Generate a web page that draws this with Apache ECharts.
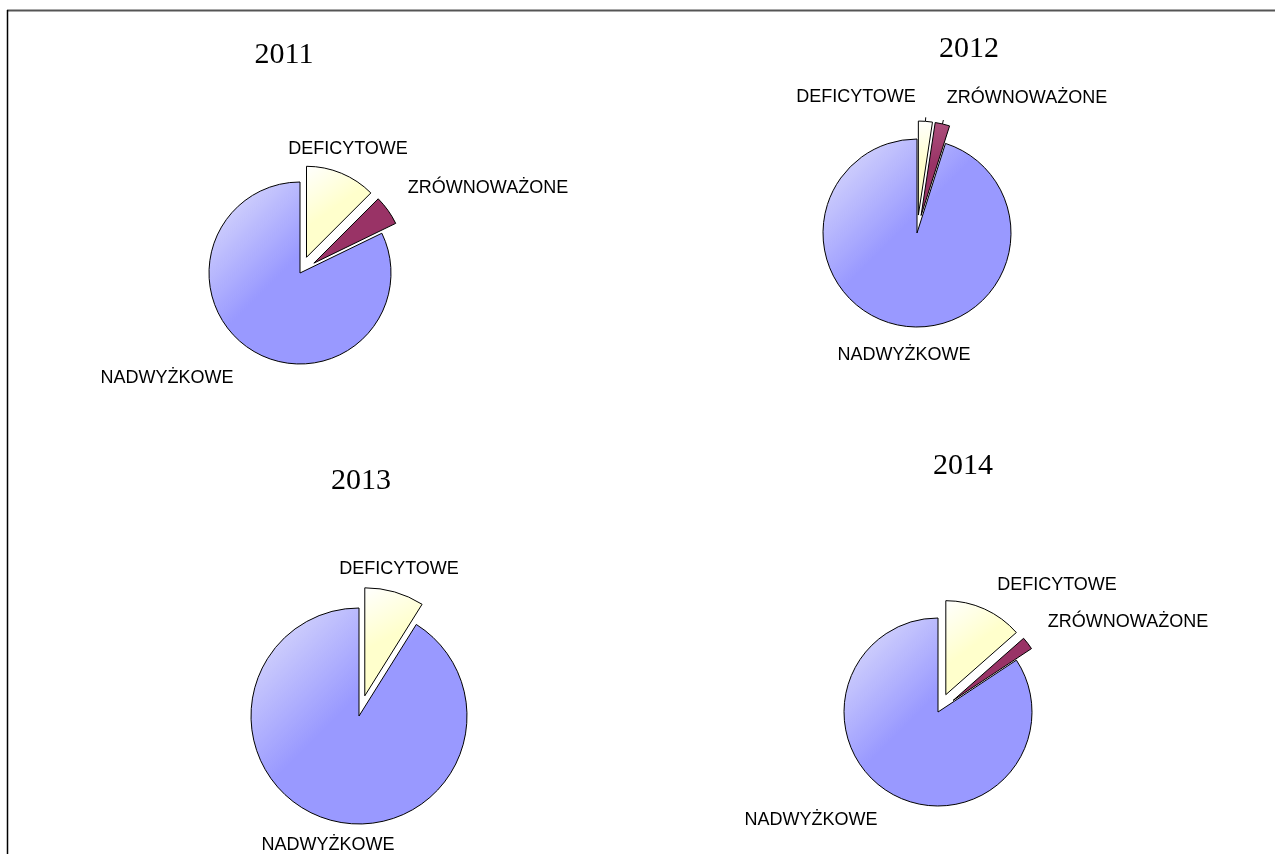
<!DOCTYPE html>
<html>
<head>
<meta charset="utf-8">
<script src="https://cdn.jsdelivr.net/npm/echarts@6/dist/echarts.min.js"></script>
<style>
  html, body { margin: 0; padding: 0; background: #fff; }
  #main { width: 1275px; height: 854px; }
</style>
</head>
<body>
<div id="main"></div>
<script>
// dane: udział jednostek wg wyniku budżetu (%)
const years = ['2011', '2012', '2013', '2014']
const categories = ['DEFICYTOWE', 'ZRÓWNOWAŻONE', 'NADWYŻKOWE']
const values2011 = [12.5, 5.3, 82.2]
const values2012 = [2.4, 2.5, 95.1]
const values2013 = [8.9, 0, 91.1]
const values2014 = [13.5, 2.2, 84.3]
const yearValues = [values2011, values2012, values2013, values2014]

// układ (położenie wykresów, tytułów i etykiet)
const pieCenters = [[300, 273], [917, 233], [359, 716], [938, 712]]
const pieRadii = [91, 94, 108, 94]
const explodeOffsets = [17, 18, 21, 19]
const titlePos = [[284, 40], [969, 34], [361, 466], [963, 451]]
const showLeader = [false, true, false, false]
const labelPos = [
  { DEFICYTOWE: [348, 149], 'ZRÓWNOWAŻONE': [488, 188], NADWYŻKOWE: [167, 378] },
  { DEFICYTOWE: [856, 97], 'ZRÓWNOWAŻONE': [1027, 98], NADWYŻKOWE: [904, 355] },
  { DEFICYTOWE: [399, 569], NADWYŻKOWE: [328, 845] },
  { DEFICYTOWE: [1057, 585], 'ZRÓWNOWAŻONE': [1128, 622], NADWYŻKOWE: [811, 820] }
]

// kolory (wypełnienie z lekkim rozjaśnieniem w lewym górnym rogu)
const fills = {
  DEFICYTOWE: ['#ffffff', '#ffffcc'],
  'ZRÓWNOWAŻONE': ['#b05580', '#993366'],
  NADWYŻKOWE: ['#e4e4fb', '#9999ff']
}

function gradient(name) {
  const c = fills[name]
  return {
    type: 'linear', x: 0, y: 0, x2: 1, y2: 1,
    colorStops: [
      { offset: 0, color: c[0] },
      { offset: 0.45, color: c[1] },
      { offset: 1, color: c[1] }
    ]
  }
}

const seriesData = yearValues.map((vals, k) => {
  const list = []
  vals.forEach((v, i) => {
    if (v > 0) {
      const name = categories[i]
      const exploded = name !== 'NADWYŻKOWE'
      list.push({
        name: name,
        value: v,
        selected: exploded,
        itemStyle: { color: gradient(name) },
        labelLine: { show: showLeader[k] && exploded }
      })
    }
  })
  return list
})

// przesunięcie wysuniętego wycinka (etykieta przesuwa się razem z nim)
function explodeShift(k, idx) {
  const list = seriesData[k]
  if (!list[idx].selected) return [0, 0]
  const total = list.reduce((s, d) => s + d.value, 0)
  let before = 0
  for (let i = 0; i < idx; i++) before += list[i].value
  const mid = (before + list[idx].value / 2) / total * Math.PI * 2
  return [explodeOffsets[k] * Math.sin(mid), -explodeOffsets[k] * Math.cos(mid)]
}

const labelFont = {
  fontFamily: '"Liberation Sans", Arial, sans-serif',
  fontSize: 18,
  color: '#000'
}

const series = years.map((y, k) => ({
  name: y,
  type: 'pie',
  center: pieCenters[k],
  radius: [0, pieRadii[k]],
  startAngle: 90,
  clockwise: true,
  selectedMode: 'multiple',
  selectedOffset: explodeOffsets[k],
  avoidLabelOverlap: false,
  data: seriesData[k],
  itemStyle: { borderColor: '#000', borderWidth: 1 },
  select: { itemStyle: { borderColor: '#000', borderWidth: 1 } },
  emphasis: { disabled: true },
  label: Object.assign({ show: true, position: 'outside', formatter: '{b}' }, labelFont),
  labelLine: {
    length: 4,
    length2: 0,
    lineStyle: { color: '#000', width: 1 }
  },
  labelLayout: params => {
    const name = seriesData[k][params.dataIndex].name
    const p = labelPos[k][name]
    const r = params.labelRect
    const s = explodeShift(k, params.dataIndex)
    return {
      dx: p[0] - (r.x + r.width / 2) - s[0],
      dy: p[1] - (r.y + r.height / 2) - s[1]
    }
  }
}))

const chart = echarts.init(document.getElementById('main'))
chart.setOption({
  animation: false,
  backgroundColor: '#fff',
  title: years.map((y, k) => ({
    text: y,
    left: titlePos[k][0],
    top: titlePos[k][1],
    textAlign: 'center',
    padding: 0,
    textStyle: {
      fontFamily: '"Liberation Serif", "Times New Roman", serif',
      fontSize: 30,
      fontWeight: 'normal',
      color: '#000'
    }
  })),
  graphic: [
    // ramka wykresu
    { type: 'line', shape: { x1: 7, y1: 10.5, x2: 1275, y2: 10.5 }, style: { stroke: '#555', lineWidth: 2 } },
    { type: 'line', shape: { x1: 7.5, y1: 10, x2: 7.5, y2: 854 }, style: { stroke: '#000', lineWidth: 1.5 } }
  ],
  series: series
})
</script>
</body>
</html>
